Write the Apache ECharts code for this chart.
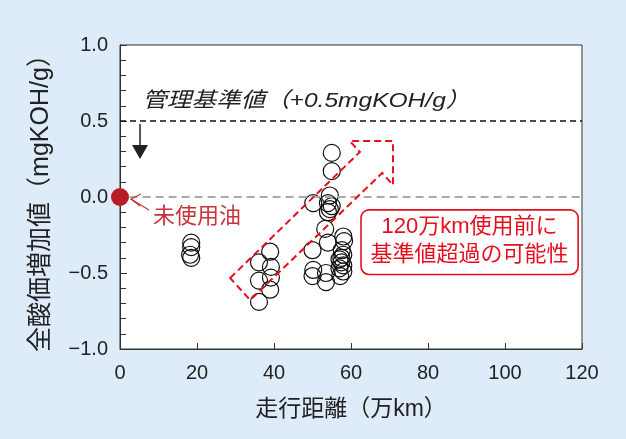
<!DOCTYPE html>
<html><head><meta charset="utf-8">
<script src="https://cdn.jsdelivr.net/npm/echarts@6/dist/echarts.min.js"></script>
<style>html,body{margin:0;padding:0;background:#deebf8;}#c{width:626px;height:439px;}</style>
</head><body><div id="c"></div>
<script>
// data (distance in 10^4 km, TAN increase mgKOH/g)
const usedOil = [
  [18.5,-0.30],[18.5,-0.33],[18.2,-0.38],[18.5,-0.40],
  [39.0,-0.36],[36.1,-0.43],[39.2,-0.46],[36.1,-0.55],[39.2,-0.53],[39.0,-0.61],[36.1,-0.69],
  [55.0,0.29],[55.0,0.17],[54.5,0.01],[50.2,-0.04],[54.0,-0.04],[55.0,-0.06],[54.5,-0.08],[54.0,-0.10],
  [53.3,-0.21],[54.0,-0.30],[50.0,-0.35],[50.2,-0.48],[50.0,-0.52],[53.5,-0.50],[53.5,-0.56],[57.2,-0.52],
  [58.0,-0.26],[58.2,-0.29],[57.6,-0.35],[58.0,-0.38],[57.5,-0.40],[57.0,-0.41],[57.5,-0.43],[58.0,-0.45],
  [57.0,-0.47],[58.0,-0.49]
];
const newOil = [[0,0]];
const limitValue = 0.5;
const xTicks = [0,20,40,60,80,100,120];
const yTicks = [-1.0,-0.5,0.0,0.5,1.0];
const limitLabel = '管理基準値（+0.5mgKOH/g）';
const newOilLabel = '未使用油';
const boxLines = ['120万km使用前に','基準値超過の可能性'];
const xTitle = '走行距離（万km）';
const yTitle = '全酸価増加値（mgKOH/g）';
// annotation arrow outline in data coords
const trendArrow = [[28.6,-0.533],[62.3,0.296],[59.7,0.368],[70.9,0.368],[70.9,0.079],[68.1,0.158],[33.8,-0.678]];

const FONT = '"Liberation Sans","Noto Sans CJK JP",sans-serif';
const chart = echarts.init(document.getElementById('c'));
const fmt = v => (v<0?'\u2212':'') + Math.abs(v).toFixed(1);
chart.setOption({
  backgroundColor:'#deebf8',
  animation:false,
  grid:{left:120,right:44,top:45,bottom:90,show:true,backgroundColor:'#fff',borderColor:'#333',borderWidth:1},
  xAxis:{type:'value',min:xTicks[0],max:xTicks[xTicks.length-1],interval:20,
    axisLine:{onZero:false,lineStyle:{color:'#333'}},
    axisTick:{inside:true,length:6,lineStyle:{color:'#333'}},
    axisLabel:{color:'#222',fontSize:20,fontFamily:FONT,margin:14},
    splitLine:{show:false},
    name:xTitle,nameLocation:'middle',nameGap:49,
    nameTextStyle:{color:'#222',fontSize:23,fontFamily:FONT}},
  yAxis:{type:'value',min:yTicks[0],max:yTicks[yTicks.length-1],interval:0.5,
    axisLine:{onZero:false,lineStyle:{color:'#333'}},
    axisTick:{inside:true,length:7,lineStyle:{color:'#333'}},
    minorTick:{show:true,splitNumber:5,length:6,lineStyle:{color:'#333'}},
    axisLabel:{color:'#222',fontSize:20,fontFamily:FONT,margin:12,formatter:fmt},
    splitLine:{show:false},
    name:yTitle,nameLocation:'middle',nameGap:66,nameRotate:90,
    nameTextStyle:{color:'#222',fontSize:25,fontFamily:FONT}},
  series:[
    {type:'scatter',data:usedOil,symbol:'circle',symbolSize:17,
     itemStyle:{color:'rgba(0,0,0,0)',borderColor:'#111',borderWidth:1.2,opacity:1},
     markLine:{silent:true,symbol:['none','none'],label:{show:false},
       data:[
        [{coord:[0,limitValue],lineStyle:{color:'#111',type:[6,4],width:1.6}},{coord:[120,limitValue]}],
        [{coord:[2.5,0],lineStyle:{color:'#aaa',type:[8,5],width:1.8}},{coord:[120,0]}]
       ]}},
    {type:'scatter',data:newOil,symbol:'circle',symbolSize:18,z:5,
     itemStyle:{color:'#b81c26',opacity:1}}
  ]
});

function px(p){return chart.convertToPixel({gridIndex:0},p);}
const arrowPts = trendArrow.map(px);
const dot = px([0,0]);
const downTop = px([5.2,0.48]), downBot = px([5.2,0.25]);
const limitPos = px([5.8,limitValue]);
const boxTL = px([62.6,-0.085]), boxBR = px([119.0,-0.51]);
// stretch italic label to the reference width
const cv = document.createElement('canvas').getContext('2d');
cv.font = 'italic 21px '+FONT;
const lw = cv.measureText(limitLabel).width;
const targetW = px([91,0])[0]-px([5.8,0])[0];
const sx = targetW/lw;
chart.setOption({graphic:[
  {type:'polygon',shape:{points:arrowPts},style:{fill:'none',stroke:'#e60f1e',lineWidth:2,lineDash:[7,4]},z:10},
  {type:'text',x:limitPos[0],y:limitPos[1]-9,scaleX:sx,style:{text:limitLabel,fill:'#222',font:'italic 21px '+FONT,textVerticalAlign:'bottom'},z:10},
  {type:'line',shape:{x1:downTop[0],y1:downTop[1],x2:downTop[0],y2:downBot[1]-12},style:{stroke:'#222',lineWidth:1.5},z:10},
  {type:'polygon',shape:{points:[[downTop[0]-8,downBot[1]-14],[downTop[0]+8,downBot[1]-14],[downTop[0],downBot[1]]]},style:{fill:'#222'},z:10},
  {type:'polyline',shape:{points:[[dot[0]+21,dot[1]-3],[dot[0]+11,dot[1]+2],[dot[0]+20,dot[1]+9]]},style:{stroke:'#c8323c',lineWidth:1.2,fill:'none'},z:10},
  {type:'line',shape:{x1:dot[0]+11,y1:dot[1]+2,x2:dot[0]+29,y2:dot[1]+13},style:{stroke:'#c8323c',lineWidth:1.2},z:10},
  {type:'text',x:dot[0]+33,y:dot[1]+20,style:{text:newOilLabel,fill:'#c8323c',font:'22px '+FONT,textVerticalAlign:'middle'},z:10},
  {type:'rect',shape:{x:boxTL[0],y:boxTL[1],width:boxBR[0]-boxTL[0],height:boxBR[1]-boxTL[1],r:8},style:{fill:'#fff',stroke:'#e60f1e',lineWidth:1.6},z:10},
  {type:'text',x:(boxTL[0]+boxBR[0])/2,y:boxTL[1]+17,style:{text:boxLines[0],fill:'#e60f1e',font:'22px '+FONT,textAlign:'center',textVerticalAlign:'middle'},z:11},
  {type:'text',x:(boxTL[0]+boxBR[0])/2,y:boxTL[1]+45,style:{text:boxLines[1],fill:'#e60f1e',font:'22px '+FONT,textAlign:'center',textVerticalAlign:'middle'},z:11}
]});
</script></body></html>
